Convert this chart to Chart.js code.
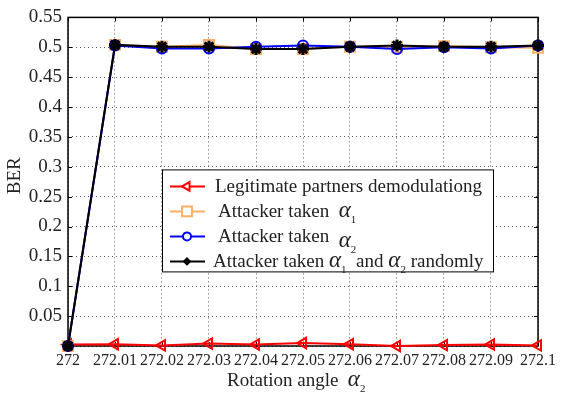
<!DOCTYPE html>
<html>
<head>
<meta charset="utf-8">
<script src="https://cdn.jsdelivr.net/npm/chart.js@4/dist/chart.umd.min.js"></script>
<style>
  html, body { margin: 0; padding: 0; background: #fff; }
  #wrap { width: 568px; height: 394px; }
</style>
</head>
<body>
<div id="wrap"><canvas id="c" width="568" height="394"></canvas></div>
<script>
// Rotation angle (x) and bit error rate for each receiver
const angles = [272, 272.01, 272.02, 272.03, 272.04, 272.05, 272.06, 272.07, 272.08, 272.09, 272.1];
const berLegit  = [0.0025, 0.003, 0.001, 0.004, 0.0025, 0.005, 0.003, 0.000, 0.0015, 0.0025, 0.001];
const berAlpha1 = [0, 0.504, 0.501, 0.504, 0.497, 0.497, 0.501, 0.500, 0.502, 0.500, 0.499];
const berAlpha2 = [0, 0.503, 0.498, 0.498, 0.501, 0.503, 0.501, 0.497, 0.500, 0.498, 0.503];
const berRandom = [0, 0.504, 0.501, 0.501, 0.497, 0.497, 0.501, 0.503, 0.501, 0.501, 0.503];
const yTicks = [0, 0.05, 0.1, 0.15, 0.2, 0.25, 0.3, 0.35, 0.4, 0.45, 0.5, 0.55];

const SERIF = '"Liberation Serif", "Times New Roman", serif';
const INK = '#222';

const toPoints = arr => angles.map((a, i) => ({ x: a, y: arr[i] }));

// Text runs: [text, kind, extraDy]; kind n = upright, i = italic symbol, s = subscript
function drawRich(ctx, parts, x, y, size) {
  let cx = x;
  for (const [t, k, dy] of parts) {
    if (k === 'n') ctx.font = size + 'px ' + SERIF;
    else if (k === 'i') ctx.font = 'italic ' + (size + 4) + 'px ' + SERIF;
    else ctx.font = Math.round(size * 0.6) + 'px ' + SERIF;
    const off = (k === 's' ? size * 0.3 : 0) + (dy || 0);
    ctx.fillText(t, cx, y + off);
    cx += ctx.measureText(t).width;
  }
  return cx;
}

const legendRows = [
  { color: '#ff0000', style: 'triangle', rot: -90, r: 5, fill: false,
    parts: [['Legitimate partners demodulationg', 'n']], dx: 0 },
  { color: '#ffb066', style: 'rect', rot: 0, r: 7, fill: false,
    parts: [['Attacker taken  ', 'n'], ['\u03B1', 'i'], ['1', 's']], dx: 3 },
  { color: '#0000ff', style: 'circle', rot: 0, r: 4, fill: false,
    parts: [['Attacker taken  ', 'n'], ['\u03B1', 'i', 5], ['2', 's', 5]], dx: 3 },
  { color: '#000000', style: 'rectRot', rot: 0, r: 3, fill: true,
    parts: [['Attacker taken ', 'n'], ['\u03B1', 'i'], ['1', 's'], ['  and ', 'n'], ['\u03B1', 'i'], ['2', 's'], [' randomly', 'n']], dx: -2 }
];

const framePlugin = {
  id: 'frame',
  beforeDatasetsDraw(chart) {
    const { ctx, chartArea: a, scales } = chart;
    ctx.save();
    ctx.strokeStyle = '#000';
    ctx.lineWidth = 1.5;
    ctx.strokeRect(a.left, a.top, a.right - a.left, a.bottom - a.top);
    ctx.lineWidth = 1;
    ctx.beginPath();
    for (const v of angles) {
      const px = Math.round(scales.x.getPixelForValue(v)) + 0.5;
      ctx.moveTo(px, a.top); ctx.lineTo(px, a.top + 4);
      ctx.moveTo(px, a.bottom); ctx.lineTo(px, a.bottom - 4);
    }
    for (const v of yTicks) {
      const py = Math.round(scales.y.getPixelForValue(v)) + 0.5;
      ctx.moveTo(a.left, py); ctx.lineTo(a.left + 4, py);
      ctx.moveTo(a.right, py); ctx.lineTo(a.right - 4, py);
    }
    ctx.stroke();
    ctx.restore();
  },
  afterDraw(chart) {
    const { ctx, chartArea: a } = chart;
    ctx.save();
    ctx.fillStyle = INK;
    ctx.textBaseline = 'alphabetic';

    // y axis title
    ctx.save();
    ctx.translate(20, (a.top + a.bottom) / 2 - 6);
    ctx.rotate(-Math.PI / 2);
    ctx.font = '19px ' + SERIF;
    ctx.textAlign = 'center';
    ctx.fillText('BER', 0, 0);
    ctx.restore();

    // x axis title
    ctx.textAlign = 'left';
    drawRich(ctx, [['Rotation angle  ', 'n'], ['\u03B1', 'i'], ['2', 's']], 227, 386, 19);

    // legend box
    const bx = a.left + 94, by = a.top + 152, bw = 331, bh = 102;
    ctx.fillStyle = '#fff';
    ctx.fillRect(bx, by, bw, bh);
    ctx.strokeStyle = '#000';
    ctx.lineWidth = 1;
    ctx.strokeRect(bx + 0.5, by + 0.5, bw, bh);
    legendRows.forEach((row, i) => {
      const cy = by + 17 + i * 25;
      ctx.strokeStyle = row.color;
      ctx.lineWidth = 2;
      ctx.beginPath();
      ctx.moveTo(bx + 8, cy); ctx.lineTo(bx + 43, cy);
      ctx.stroke();
      ctx.fillStyle = row.fill ? row.color : '#fff';
      Chart.helpers.drawPoint(ctx, {
        pointStyle: row.style, radius: row.r, rotation: row.rot, borderWidth: 2
      }, bx + 25, cy);
      if (row.fill) ctx.fill();
      ctx.fillStyle = INK;
      drawRich(ctx, row.parts, bx + 53 + row.dx, cy + 6, 19);
    });
    ctx.restore();
  }
};

const mkSet = (label, arr, color, style, radius, order, extra) => Object.assign({
  label,
  data: toPoints(arr),
  borderColor: color,
  borderWidth: 2,
  pointStyle: style,
  pointRadius: radius,
  pointBorderColor: color,
  pointBackgroundColor: 'rgba(255,255,255,0)',
  pointBorderWidth: 2,
  tension: 0,
  clip: false,
  order
}, extra || {});

new Chart(document.getElementById('c'), {
  type: 'line',
  data: {
    datasets: [
      mkSet('Legitimate partners demodulationg', berLegit, '#ff0000', 'triangle', 6, 3, { pointRotation: -90 }),
      mkSet('Attacker taken \u03B11', berAlpha1, '#ffb066', 'rect', 7, 2),
      mkSet('Attacker taken \u03B12', berAlpha2, '#0000ff', 'circle', 5, 1),
      mkSet('Attacker taken \u03B11 and \u03B12 randomly', berRandom, '#000000', 'star', 6, 0, { pointBorderWidth: 3 })
    ]
  },
  options: {
    responsive: false,
    animation: false,
    layout: { padding: { top: 15, right: 30, left: 0, bottom: 0 } },
    plugins: { legend: { display: false }, tooltip: { enabled: false } },
    scales: {
      x: {
        type: 'linear',
        min: 272, max: 272.1,
        afterBuildTicks: s => { s.ticks = angles.map(v => ({ value: v })); },
        afterFit: s => { s.height = 48; },
        ticks: {
          autoSkip: false, maxRotation: 0, padding: 5, color: INK,
          font: { family: SERIF, size: 16 },
          callback: v => String(+(+v).toFixed(2))
        },
        grid: { color: '#555', lineWidth: 1, drawTicks: false },
        border: { display: false, dash: [1, 3] }
      },
      y: {
        min: 0, max: 0.55,
        afterBuildTicks: s => { s.ticks = yTicks.map(v => ({ value: v })); },
        afterFit: s => { s.width = 68; },
        ticks: {
          padding: 6, color: INK,
          font: { family: SERIF, size: 19 },
          callback: v => (v === 0 ? '' : String(+(+v).toFixed(2)))
        },
        grid: { color: '#555', lineWidth: 1, drawTicks: false },
        border: { display: false, dash: [1, 3] }
      }
    }
  },
  plugins: [framePlugin]
});
</script>
</body>
</html>
